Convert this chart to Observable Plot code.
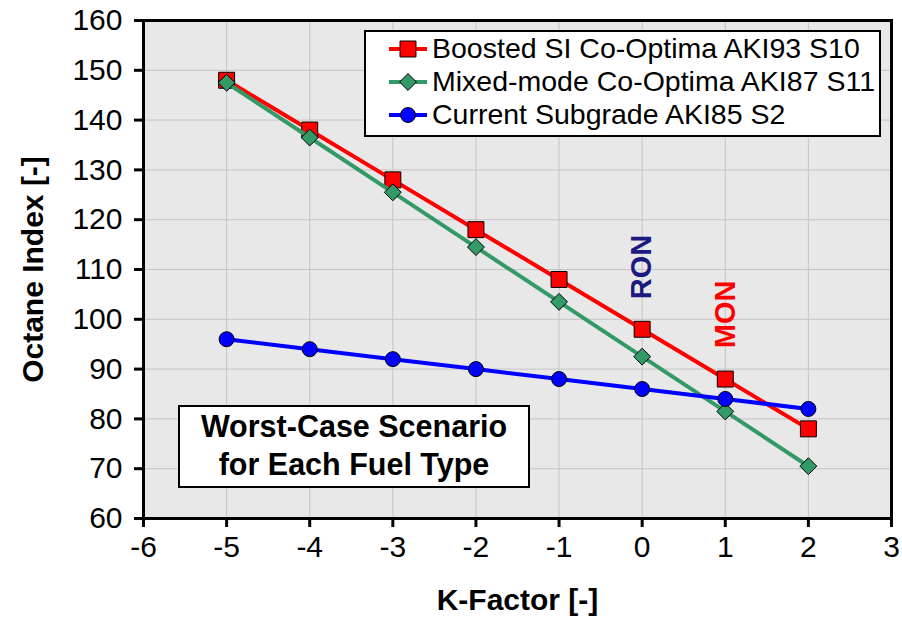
<!DOCTYPE html>
<html>
<head>
<meta charset="utf-8">
<script src="https://cdn.jsdelivr.net/npm/d3@7"></script>
<script src="https://cdn.jsdelivr.net/npm/@observablehq/plot@0.6"></script>
<style>
  html, body { margin: 0; padding: 0; background: #fff; }
  #wrap { position: relative; width: 902px; height: 620px; font-family: "Liberation Sans", Arial, sans-serif; }
  #chart svg { display: block; }
  #legend {
    position: absolute; left: 364px; top: 30px; width: 517px; height: 107px;
    box-sizing: border-box; border: 2px solid #000; background: #fff;
    padding-top: 0px;
  }
  .row { display: flex; align-items: center; height: 33px; font-size: 28.5px; color: #000; white-space: nowrap; }
  .row svg { margin-left: 23px; margin-right: 5px; flex: none; }
  #note {
    position: absolute; left: 178px; top: 405px; width: 352px; height: 83px;
    box-sizing: border-box; border: 2px solid #000; background: #fff;
    display: flex; flex-direction: column; justify-content: center; align-items: center;
    font-weight: bold; font-size: 30.5px; line-height: 38px; color: #000;
    padding-bottom: 3px;
  }
</style>
</head>
<body>
<div id="wrap">
  <div id="chart"></div>
  <div id="legend"></div>
  <div id="note"><div>Worst-Case Scenario</div><div>for Each Fuel Type</div></div>
</div>
<script>
// K-factor values shared by all three fuels
const kFactor = [-5, -4, -3, -2, -1, 0, 1, 2];

// Octane index of each fuel (worst case) at each K-factor
const boosted = [148, 138, 128, 118, 108, 98, 88, 78];
const mixedMode = [147.5, 136.5, 125.5, 114.5, 103.5, 92.5, 81.5, 70.5];
const subgrade = [96, 94, 92, 90, 88, 86, 84, 82];

const seriesNames = [
  "Boosted SI Co-Optima AKI93 S10",
  "Mixed-mode Co-Optima AKI87 S11",
  "Current Subgrade AKI85 S2"
];
const seriesColors = ["#ff0000", "#339966", "#0000ff"];
const seriesSymbols = ["square", "diamond2", "circle"];
const seriesRadius = [9, 7.6, 7.5];

// Axis ticks
const xTicks = [-6, -5, -4, -3, -2, -1, 0, 1, 2, 3];
const yTicks = [60, 70, 80, 90, 100, 110, 120, 130, 140, 150, 160];

// RON / MON annotations
const tagLabels = ["RON", "MON"];
const tagK = [0, 1];
const tagOctane = [110.5, 101];
const tagColors = ["#1a1a80", "#ff0000"];

const seriesValues = [boosted, mixedMode, subgrade];
const series = seriesNames.map((name, i) => ({
  name, color: seriesColors[i], symbol: seriesSymbols[i], r: seriesRadius[i],
  points: kFactor.map((k, j) => ({k, v: seriesValues[i][j]}))
}));
const tags = tagLabels.map((t, i) => ({text: t, k: tagK[i], v: tagOctane[i], color: tagColors[i]}));

const seriesMarks = series.flatMap(s => [
  Plot.line(s.points, {x: "k", y: "v", stroke: s.color, strokeWidth: 4}),
  Plot.dot(s.points, {x: "k", y: "v", symbol: () => s.symbol, r: s.r, fill: s.color, stroke: "#000", strokeWidth: 1})
]);

// Plain hyphen for negative tick labels
const fmt = d => String(d);

const chart = Plot.plot({
  width: 902,
  height: 620,
  marginLeft: 143,
  marginRight: 11,
  marginTop: 20,
  marginBottom: 102,
  style: {fontFamily: "'Liberation Sans', Arial, sans-serif", background: "#fff", overflow: "visible"},
  x: {domain: [-6, 3]},
  y: {domain: [60, 160]},
  symbol: {type: "identity"},
  marks: [
    Plot.frame({fill: "#e8e8e8"}),
    Plot.gridX(xTicks, {stroke: "#c4c4c4", strokeOpacity: 1, strokeWidth: 1}),
    Plot.gridY(yTicks, {stroke: "#c4c4c4", strokeOpacity: 1, strokeWidth: 1}),
    ...seriesMarks,
    Plot.text(tags, {x: "k", y: "v", text: "text", fill: "color", rotate: -90, fontSize: 29, fontWeight: "bold"}),
    Plot.frame({stroke: "#000", strokeWidth: 3}),
    Plot.axisX(xTicks, {tickSize: 9, strokeWidth: 3, stroke: "#000", tickPadding: 8, fontSize: 30, label: null, color: "#000", tickFormat: fmt}),
    Plot.axisY(yTicks, {tickSize: 9, strokeWidth: 3, stroke: "#000", tickPadding: 12, fontSize: 30, label: null, color: "#000", tickFormat: fmt}),
    Plot.text(["Octane Index [-]"], {frameAnchor: "left", dx: -110, rotate: -90, textAnchor: "middle", lineAnchor: "middle", fontSize: 30, fontWeight: "bold", fill: "#000"}),
    Plot.text(["K-Factor [-]"], {frameAnchor: "bottom", dy: 82, textAnchor: "middle", lineAnchor: "middle", fontSize: 30, fontWeight: "bold", fill: "#000"})
  ]
});
document.getElementById("chart").append(chart);

// Legend rows: line segment with the series marker, then the series name
const legend = document.getElementById("legend");
for (const s of series) {
  const row = document.createElement("div");
  row.className = "row";
  const ns = "http://www.w3.org/2000/svg";
  const svg = document.createElementNS(ns, "svg");
  svg.setAttribute("width", 38);
  svg.setAttribute("height", 22);
  const line = document.createElementNS(ns, "line");
  line.setAttribute("x1", 0); line.setAttribute("x2", 38);
  line.setAttribute("y1", 11); line.setAttribute("y2", 11);
  line.setAttribute("stroke", s.color); line.setAttribute("stroke-width", 4);
  svg.append(line);
  const sym = s.symbol === "square" ? d3.symbolSquare : s.symbol === "diamond2" ? d3.symbolDiamond2 : d3.symbolCircle;
  const path = document.createElementNS(ns, "path");
  path.setAttribute("d", d3.symbol(sym, Math.PI * s.r * s.r)());
  path.setAttribute("transform", "translate(19,11)");
  path.setAttribute("fill", s.color);
  path.setAttribute("stroke", "#000");
  path.setAttribute("stroke-width", 1);
  svg.append(path);
  const label = document.createElement("span");
  label.textContent = s.name;
  row.append(svg, label);
  legend.append(row);
}
</script>
</body>
</html>
